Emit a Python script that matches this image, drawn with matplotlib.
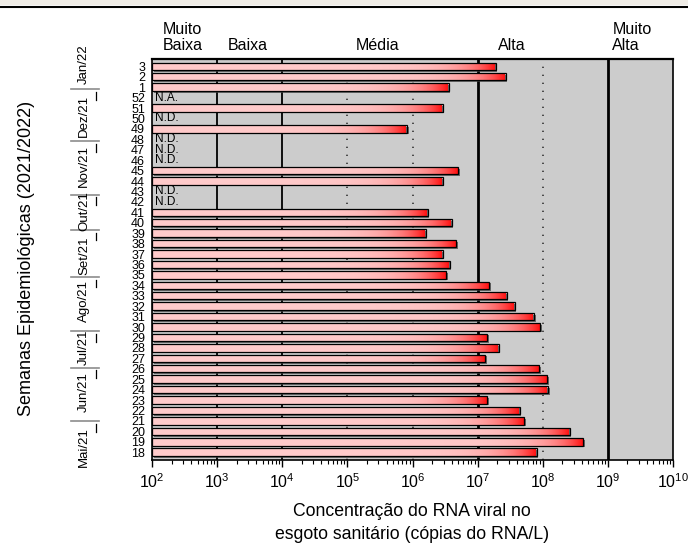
import numpy as np
import matplotlib
matplotlib.use('Agg')
import matplotlib.pyplot as plt
import matplotlib.patheffects as pe
from matplotlib.colors import LinearSegmentedColormap
from matplotlib.patches import Rectangle
from matplotlib import font_manager

plt.rcParams['font.family'] = ['Liberation Sans', 'DejaVu Sans']
plt.rcParams['mathtext.fontset'] = 'custom'
plt.rcParams['mathtext.rm'] = 'Liberation Sans'
plt.rcParams['mathtext.it'] = 'Liberation Sans:italic'

names = {f.name for f in font_manager.fontManager.ttflist}
narrow = 'Liberation Sans Narrow' if 'Liberation Sans Narrow' in names else 'Liberation Sans'

# data: epidemiological weeks (bottom -> top) and RNA concentration (copies/L)
weeks = [18, 19, 20, 21, 22, 23, 24, 25, 26, 27, 28, 29, 30, 31, 32, 33, 34,
         35, 36, 37, 38, 39, 40, 41, 42, 43, 44, 45, 46, 47, 48, 49, 50, 51,
         52, 1, 2, 3]
conc = [8.1e7, 4.2e8, 2.6e8, 5.2e7, 4.4e7, 1.4e7, 1.2e8, 1.18e8, 8.9e7,
        1.3e7, 2.1e7, 1.4e7, 9.2e7, 7.3e7, 3.7e7, 2.8e7, 1.5e7,
        3.3e6, 3.7e6, 2.9e6, 4.7e6, 1.6e6, 4.0e6, 1.7e6, np.nan, np.nan,
        2.9e6, 5.0e6, np.nan, np.nan, np.nan, 8.2e5, np.nan, 2.9e6,
        np.nan, 3.6e6, 2.7e7, 1.9e7]
notes = {42: 'N.D.', 43: 'N.D.', 46: 'N.D.', 47: 'N.D.', 48: 'N.D.',
         50: 'N.D.', 52: 'N.A.'}

months = ['Jan/22', 'Dez/21', 'Nov/21', 'Out/21', 'Set/21', 'Ago/21',
          'Jul/21', 'Jun/21', 'Mai/21']
month_pos = [37.2, 32.2, 27.4, 23.1, 18.8, 14.5, 10.1, 5.8, 0.45]
month_sep = [34.8, 29.8, 24.7, 21.3, 16.8, 11.6, 8.1, 2.95]

levels = ['Muito\nBaixa', 'Baixa', 'Média', 'Alta', 'Muito\nAlta']
level_x = [10**2.17, 10**3.47, 10**5.47, 10**7.53, 10**9.07]
level_ha = ['left', 'center', 'center', 'center', 'left']

fig = plt.figure(figsize=(6.88, 5.54), dpi=100)
ax = fig.add_axes([152/688, 1-460/554, 521/688, 401/554])
ax.set_xscale('log')
ax.set_facecolor('#cccccc')

# class boundaries
for x in [1e3, 1e4]:
    ax.axvline(x, color='black', lw=1.3, zorder=1)
for x in [1e7, 1e9]:
    ax.axvline(x, color='black', lw=2, zorder=1)
for x in [1e5, 1e6, 1e8]:
    ax.axvline(x, color='0.2', lw=1.2, ls=(0, (0.8, 4)), zorder=1)

cmap = LinearSegmentedColormap.from_list('pinkred', ['#ffcaca', '#ff0a0a'])
grad = np.linspace(0, 1, 256).reshape(1, -1)
h = 0.72
ypos = np.arange(len(weeks))
for y, w, v in zip(ypos, weeks, conc):
    if np.isnan(v):
        ax.text(10**2.05, y, notes[w], ha='left', va='center', fontsize=8.5, zorder=5)
        continue
    ax.barh(y, v - 1e2, left=1e2, height=h, color='0.3', zorder=2,
            path_effects=[pe.SimplePatchShadow(offset=(1.2, -1.2), shadow_rgbFace='0.25', alpha=0.7)])
    ax.imshow(grad, cmap=cmap, aspect='auto', extent=(1e2, v, y - h/2, y + h/2),
              interpolation='bilinear', zorder=3)
    ax.barh(y, v - 1e2, left=1e2, height=h, facecolor='none', edgecolor='black', lw=0.9, zorder=4)
ax.set_xlim(1e2, 1e10)
ax.set_ylim(-0.75, 37.7)

ax.set_yticks(ypos)
ax.set_yticklabels([str(w) for w in weeks], family=narrow, fontsize=9)
ax.tick_params(axis='y', length=0, pad=5)
ax.set_xticks([10.0**k for k in range(2, 11)])
ax.set_xticklabels([r'$10^{%d}$' % k for k in range(2, 11)], fontsize=11.5)
ax.tick_params(axis='x', which='major', direction='out', length=5, width=1, pad=4)
ax.tick_params(axis='x', which='minor', direction='out', length=3, width=0.8)
for s in ax.spines.values():
    s.set_linewidth(1.2)
ax.spines['top'].set_linewidth(1.6)

trans = ax.get_xaxis_transform()
for lab, x, ha in zip(levels, level_x, level_ha):
    ax.text(x, 1 + 9/401, lab, transform=trans, ha=ha, va='baseline',
            fontsize=11.5, multialignment='left', linespacing=1.1)

# month labels and separators on the left
ytr = ax.get_yaxis_transform()
to_ax = lambda px: (px - 152) / 521
for m, yp in zip(months, month_pos):
    ax.text(to_ax(84), yp, m, transform=ytr, rotation=90, ha='center', va='center',
            fontsize=9.5, clip_on=False)
for yb in month_sep:
    ax.plot([to_ax(71), to_ax(99)], [yb, yb], transform=ytr, color='0.55', lw=1.2, clip_on=False)
    ax.plot([to_ax(96), to_ax(96)], [yb - 0.25, yb - 1.0], transform=ytr, color='black', lw=0.9, clip_on=False)

fig.text(27/688, 1 - 258/554, 'Semanas Epidemiológicas (2021/2022)', rotation=90,
         ha='center', va='center', fontsize=13)
fig.text(412/688, 1 - 523/554, 'Concentração do RNA viral no\nesgoto sanitário (cópias do RNA/L)',
         ha='center', va='center', fontsize=12.7, linespacing=1.4)

# top window strip
fig.patches.append(Rectangle((0, 1 - 5/554), 1, 5/554, transform=fig.transFigure,
                             facecolor='#efece6', edgecolor='none'))
fig.add_artist(plt.Line2D([0, 1], [1 - 6.5/554, 1 - 6.5/554], transform=fig.transFigure,
                          color='black', lw=1.5))

fig.savefig('out.png', dpi=100)
